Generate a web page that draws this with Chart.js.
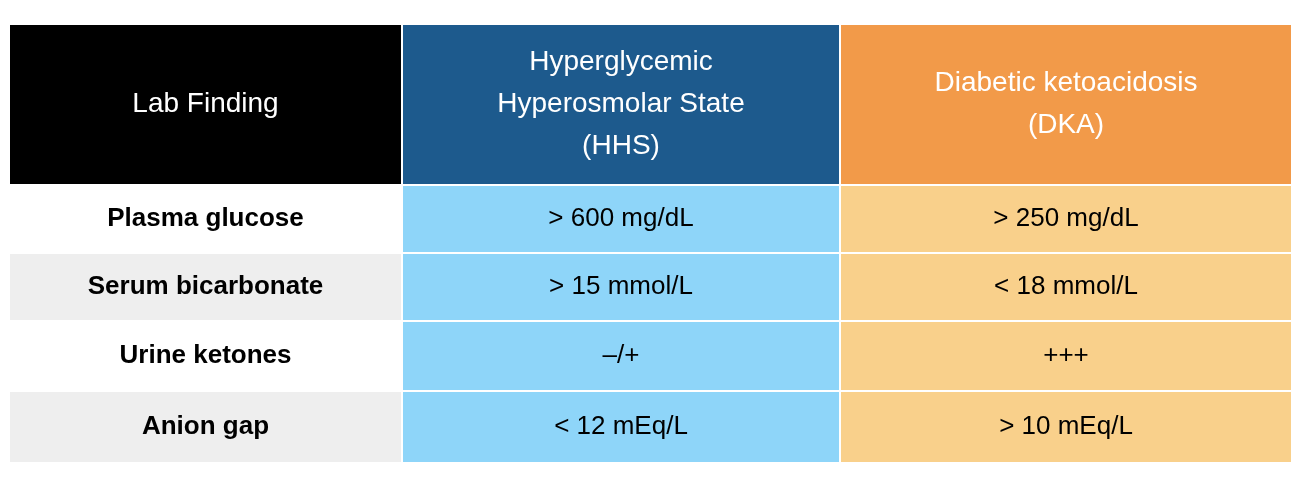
<!DOCTYPE html>
<html>
<head>
<meta charset="utf-8">
<script src="https://cdn.jsdelivr.net/npm/chart.js@4/dist/chart.umd.min.js"></script>
<style>
    html, body { margin: 0; padding: 0; background: #fff; }
    canvas { display: block; }
</style>
</head>
<body>
<canvas id="c" width="1312" height="486"></canvas>
<script>
// ===== table data =====
var headers = ['Lab Finding', 'Hyperglycemic\nHyperosmolar State\n(HHS)', 'Diabetic ketoacidosis\n(DKA)'];
var findings = ['Plasma glucose', 'Serum bicarbonate', 'Urine ketones', 'Anion gap'];
var hhsValues = ['> 600 mg/dL', '> 15 mmol/L', '\u2013/+', '< 12 mEq/L'];
var dkaValues = ['> 250 mg/dL', '< 18 mmol/L', '+++', '> 10 mEq/L'];

// cell edges on the (hidden) axes
var colEdges = [10, 403, 841, 1291];
var rowEdges = [25, 186, 254, 322, 392, 462];

var headerFill = ['#000000', '#1d5a8d', '#f29a49'];
var labelFill = ['#ffffff', '#eeeeee', '#ffffff', '#eeeeee'];
var hhsFill = '#8ed5f9';
var dkaFill = '#f9d08b';
var GAP = 2;

var tablePlugin = {
    id: 'tableCells',
    beforeDatasetsDraw: function(chart) {
        var ctx = chart.ctx, xs = chart.scales.x, ys = chart.scales.y;

        function cell(c, r, fill, text, font, color, lh) {
            var x0 = xs.getPixelForValue(colEdges[c]);
            var x1 = xs.getPixelForValue(colEdges[c + 1]) - (c < 2 ? GAP : 0);
            var y0 = ys.getPixelForValue(rowEdges[r]);
            var y1 = ys.getPixelForValue(rowEdges[r + 1]) - (r < 4 ? GAP : 0);
            ctx.fillStyle = fill;
            ctx.fillRect(x0, y0, x1 - x0, y1 - y0);
            ctx.fillStyle = color;
            ctx.font = font;
            ctx.textAlign = 'center';
            ctx.textBaseline = 'middle';
            var lines = text.split('\n');
            var cy = (y0 + y1) / 2 - (lines.length - 1) * lh / 2;
            for (var i = 0; i < lines.length; i++) ctx.fillText(lines[i], (x0 + x1) / 2, cy + i * lh);
        }

        ctx.save();
        for (var h = 0; h < headers.length; h++) {
            cell(h, 0, headerFill[h], headers[h], '28px "Liberation Sans", Arial, sans-serif', '#ffffff', 42);
        }
        for (var r = 0; r < findings.length; r++) {
            cell(0, r + 1, labelFill[r], findings[r], 'bold 26px "Liberation Sans", Arial, sans-serif', '#000000', 30);
            cell(1, r + 1, hhsFill, hhsValues[r], '26px "Liberation Sans", Arial, sans-serif', '#000000', 30);
            cell(2, r + 1, dkaFill, dkaValues[r], '26px "Liberation Sans", Arial, sans-serif', '#000000', 30);
        }
        ctx.restore();
    }
};

new Chart(document.getElementById('c'), {
    type: 'scatter',
    data: { datasets: [{ data: [], pointRadius: 0 }] },
    options: {
        responsive: false, animation: false,
        layout: { padding: 0 },
        plugins: { legend: { display: false }, tooltip: { enabled: false } },
        scales: {
            x: { type: 'linear', min: 0, max: 1312, display: false },
            y: { type: 'linear', min: 0, max: 486, reverse: true, display: false }
        }
    },
    plugins: [tablePlugin]
});
</script>
</body>
</html>
